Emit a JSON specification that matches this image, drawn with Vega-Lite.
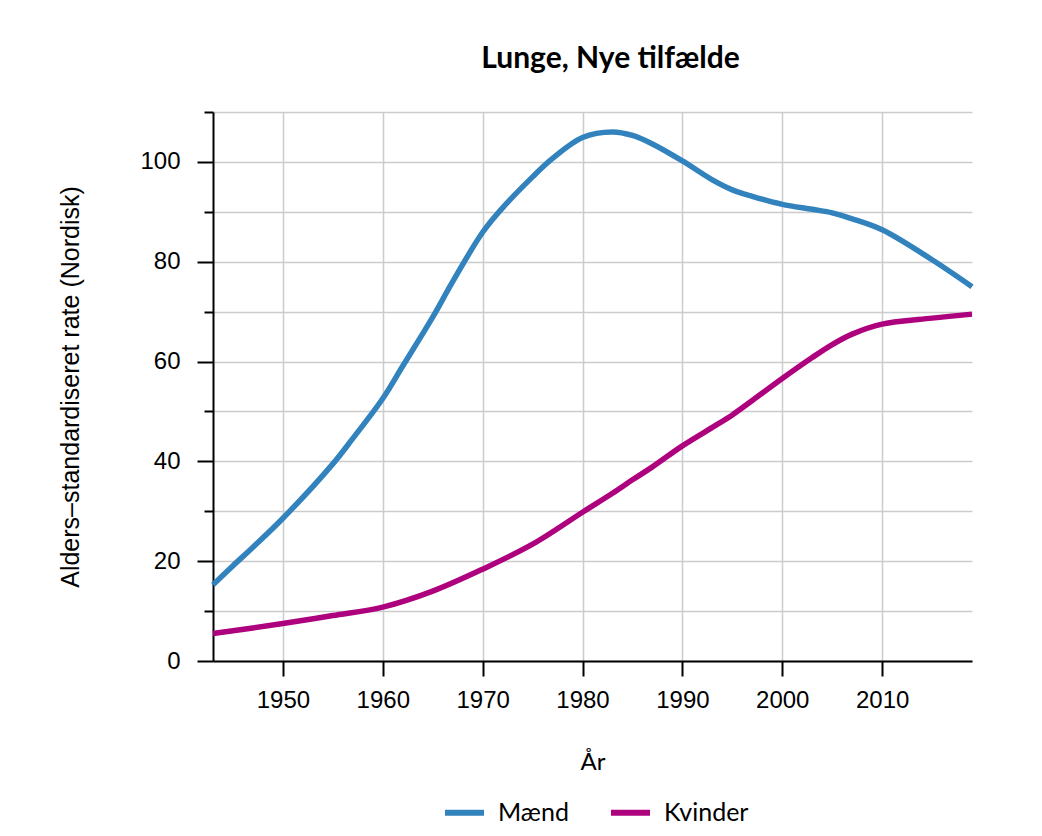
{
  "$schema": "https://vega.github.io/schema/vega-lite/v6.json",
  "width": 759,
  "height": 549,
  "autosize": {"type": "none"},
  "padding": {"left": 213, "top": 112, "right": 70, "bottom": 175},
  "background": "white",
  "title": {
    "text": "Lunge, Nye tilfælde",
    "font": "Lato",
    "fontSize": 30,
    "fontWeight": "bold",
    "color": "#000000",
    "anchor": "middle",
    "dx": 18,
    "offset": 26
  },
  "data": {
    "values": [
      {"år": 1943, "køn": "Mænd", "rate": 15.3},
      {"år": 1945, "køn": "Mænd", "rate": 19.1},
      {"år": 1947, "køn": "Mænd", "rate": 22.8},
      {"år": 1950, "køn": "Mænd", "rate": 28.6},
      {"år": 1955, "køn": "Mænd", "rate": 39.5},
      {"år": 1957, "køn": "Mænd", "rate": 44.6},
      {"år": 1960, "køn": "Mænd", "rate": 52.6},
      {"år": 1962, "køn": "Mænd", "rate": 59.1},
      {"år": 1965, "køn": "Mænd", "rate": 68.9},
      {"år": 1967, "køn": "Mænd", "rate": 76.0},
      {"år": 1970, "køn": "Mænd", "rate": 85.9},
      {"år": 1972, "køn": "Mænd", "rate": 90.8},
      {"år": 1975, "køn": "Mænd", "rate": 97.0},
      {"år": 1977, "køn": "Mænd", "rate": 100.7},
      {"år": 1980, "køn": "Mænd", "rate": 104.9},
      {"år": 1983, "køn": "Mænd", "rate": 106.0},
      {"år": 1985, "køn": "Mænd", "rate": 105.3},
      {"år": 1987, "køn": "Mænd", "rate": 103.6},
      {"år": 1990, "køn": "Mænd", "rate": 100.2},
      {"år": 1993, "køn": "Mænd", "rate": 96.4},
      {"år": 1995, "køn": "Mænd", "rate": 94.4},
      {"år": 1997, "køn": "Mænd", "rate": 93.1},
      {"år": 2000, "køn": "Mænd", "rate": 91.5},
      {"år": 2003, "køn": "Mænd", "rate": 90.5},
      {"år": 2005, "køn": "Mænd", "rate": 89.8},
      {"år": 2007, "køn": "Mænd", "rate": 88.6},
      {"år": 2010, "køn": "Mænd", "rate": 86.4},
      {"år": 2015, "køn": "Mænd", "rate": 80.4},
      {"år": 2019, "køn": "Mænd", "rate": 75.0},
      {"år": 1943, "køn": "Kvinder", "rate": 5.5},
      {"år": 1950, "køn": "Kvinder", "rate": 7.5},
      {"år": 1955, "køn": "Kvinder", "rate": 9.1},
      {"år": 1960, "køn": "Kvinder", "rate": 10.8},
      {"år": 1965, "køn": "Kvinder", "rate": 14.0},
      {"år": 1970, "køn": "Kvinder", "rate": 18.4},
      {"år": 1975, "køn": "Kvinder", "rate": 23.4},
      {"år": 1980, "køn": "Kvinder", "rate": 29.8},
      {"år": 1983, "køn": "Kvinder", "rate": 33.6},
      {"år": 1985, "køn": "Kvinder", "rate": 36.3},
      {"år": 1987, "køn": "Kvinder", "rate": 38.9},
      {"år": 1990, "køn": "Kvinder", "rate": 43.1},
      {"år": 1993, "køn": "Kvinder", "rate": 46.8},
      {"år": 1995, "køn": "Kvinder", "rate": 49.3},
      {"år": 1997, "køn": "Kvinder", "rate": 52.2},
      {"år": 2000, "køn": "Kvinder", "rate": 56.6},
      {"år": 2003, "køn": "Kvinder", "rate": 60.8},
      {"år": 2005, "køn": "Kvinder", "rate": 63.4},
      {"år": 2007, "køn": "Kvinder", "rate": 65.5},
      {"år": 2010, "køn": "Kvinder", "rate": 67.5},
      {"år": 2015, "køn": "Kvinder", "rate": 68.7},
      {"år": 2019, "køn": "Kvinder", "rate": 69.5}
    ]
  },
  "mark": {"type": "line", "strokeWidth": 5.5, "interpolate": "catmull-rom"},
  "encoding": {
    "x": {
      "field": "år",
      "type": "quantitative",
      "scale": {"domain": [1943, 2019], "nice": false, "zero": false},
      "axis": {
        "values": [1950, 1960, 1970, 1980, 1990, 2000, 2010],
        "format": "d",
        "title": "År",
        "tickSize": 15,
        "tickWidth": 2,
        "tickColor": "#000000",
        "domainColor": "#000000",
        "domainWidth": 2,
        "labelFont": "Liberation Sans",
        "labelFontSize": 24,
        "labelColor": "#000000",
        "labelPadding": 12,
        "titleFont": "Lato",
        "titleFontSize": 24,
        "titleFontWeight": "normal",
        "titleColor": "#000000",
        "titlePadding": 38,
        "gridColor": "#cccccc",
        "gridWidth": 1.5
      }
    },
    "y": {
      "field": "rate",
      "type": "quantitative",
      "scale": {"domain": [0, 110], "nice": false},
      "axis": {
        "values": [0, 10, 20, 30, 40, 50, 60, 70, 80, 90, 100, 110],
        "labelExpr": "datum.value % 20 === 0 ? datum.label : ''",
        "labelOverlap": false,
        "title": "Alders–standardiseret rate (Nordisk)",
        "tickSize": {"condition": {"test": "datum.value % 20 === 0", "value": 16}, "value": 9},
        "tickWidth": 2,
        "tickColor": "#000000",
        "domainColor": "#000000",
        "domainWidth": 2,
        "labelFont": "Liberation Sans",
        "labelFontSize": 24,
        "labelColor": "#000000",
        "labelPadding": 17,
        "titleFont": "Liberation Sans",
        "titleFontSize": 25,
        "titleFontWeight": "normal",
        "titleColor": "#000000",
        "titlePadding": 56,
        "gridColor": "#cccccc",
        "gridWidth": 1.5
      }
    },
    "color": {
      "field": "køn",
      "type": "nominal",
      "scale": {"domain": ["Mænd", "Kvinder"], "range": ["#3182bd", "#ae017e"]},
      "legend": {
        "title": null,
        "orient": "none",
        "legendX": 229,
        "legendY": 678,
        "direction": "horizontal",
        "symbolType": "stroke",
        "symbolStrokeWidth": 6,
        "symbolSize": 1521,
        "labelFont": "Lato",
        "labelFontSize": 25,
        "labelColor": "#000000",
        "labelOffset": 11,
        "columnPadding": 30
      }
    }
  },
  "config": {
    "view": {"stroke": null}
  }
}
